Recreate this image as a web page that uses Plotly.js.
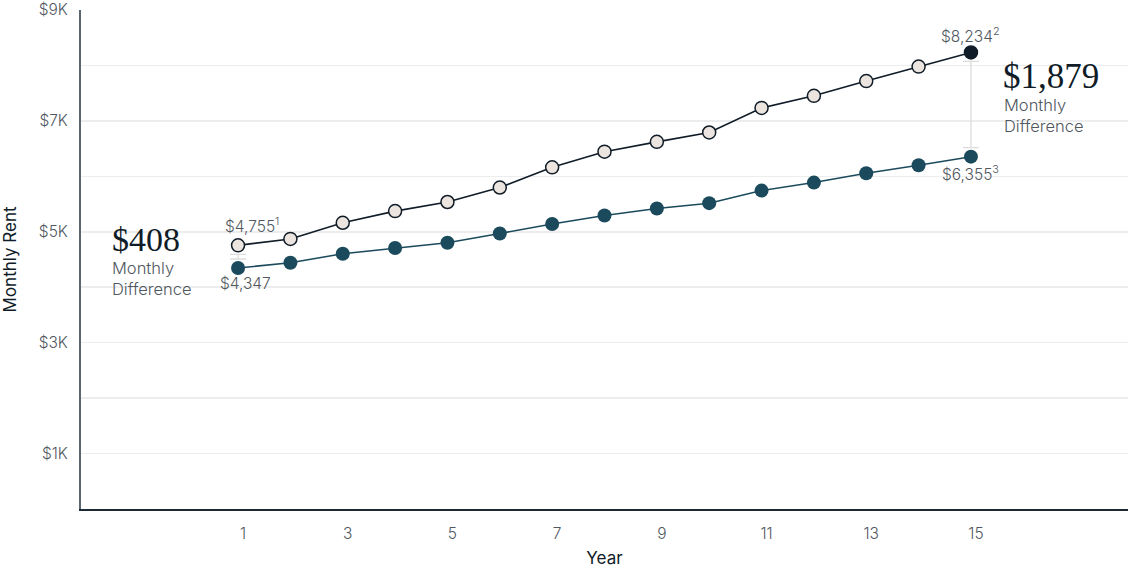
<!DOCTYPE html>
<html>
<head>
<meta charset="utf-8">
<script src="https://cdn.plot.ly/plotly-3.0.1.min.js"></script>
<style>
  html, body { margin: 0; padding: 0; background: #fff; }
  #chart { width: 1130px; height: 568px; }
</style>
</head>
<body>
<div id="chart"></div>
<script>
// year of tenancy
var years = [1, 2, 3, 4, 5, 6, 7, 8, 9, 10, 11, 12, 13, 14, 15];
// upper line (light markers)
var rentHigh = [4755, 4871, 5162, 5373, 5537, 5798, 6162, 6445, 6622, 6791, 7234, 7452, 7718, 7979, 8234];
// lower line (teal markers)
var rentLow = [4347, 4442, 4604, 4707, 4802, 4970, 5139, 5293, 5419, 5516, 5743, 5887, 6056, 6200, 6355];

var xTicks = [1, 3, 5, 7, 9, 11, 13, 15];
var yTicks = [1000, 2000, 3000, 4000, 5000, 6000, 7000, 8000, 9000];
var yTickText = ["$1K", "", "$3K", "", "$5K", "", "$7K", "", "$9K"];

var SANS = "Inter, Lato, 'Noto Sans', sans-serif";
var SERIF = "'Liberation Serif', 'DejaVu Serif', serif";
var DARK = "#101c27";
var TEAL = "#1b4a5c";
var GREY = "#50575e";

var last = years.length - 1;
var plotH = 568 - 10 - 59;
var padPx = 9;
var pad = padPx * 9000 / plotH;

function fmt(v) {
    return "$" + v.toLocaleString("en-US");
}

// connector between the two lines at first and last year
function gapBar(i) {
    var hi = rentHigh[i], lo = rentLow[i];
    return {
        x: [years[i]],
        y: [(hi + lo) / 2],
        type: "scatter",
        mode: "markers",
        marker: {size: 1, opacity: 0},
        hoverinfo: "skip",
        showlegend: false,
        error_y: {
            type: "constant",
            value: Math.max((hi - lo) / 2 - pad, 20),
            width: 8,
            thickness: 1.3,
            color: "#dcdcdc"
        }
    };
}

var highFill = rentHigh.map(function (v, i) { return i === last ? DARK : "#ece4de"; });

var traces = [
    gapBar(0),
    gapBar(last),
    {
        x: years,
        y: rentLow,
        type: "scatter",
        mode: "lines+markers",
        line: {color: TEAL, width: 1.5},
        marker: {size: 14, color: TEAL, line: {width: 0}},
        showlegend: false
    },
    {
        x: years,
        y: rentHigh,
        type: "scatter",
        mode: "lines+markers",
        line: {color: DARK, width: 1.6},
        marker: {size: 13, color: highFill, line: {color: DARK, width: 1.5}},
        showlegend: false
    }
];

var diffStart = rentHigh[0] - rentLow[0];
var diffEnd = rentHigh[last] - rentLow[last];
var labelFont = {family: SANS, size: 15.5, color: GREY, weight: 300};
var noteFont = {family: SANS, size: 16.5, color: GREY, weight: 300};

var annotations = [
    {x: years[0], y: rentHigh[0], xref: "x", yref: "y", text: fmt(rentHigh[0]) + "<sup>1</sup>",
     showarrow: false, xanchor: "center", yanchor: "middle", xshift: 14, yshift: 20, font: labelFont},
    {x: years[0], y: rentLow[0], xref: "x", yref: "y", text: fmt(rentLow[0]),
     showarrow: false, xanchor: "center", yanchor: "middle", xshift: 7, yshift: -16, font: labelFont},
    {x: years[last], y: rentHigh[last], xref: "x", yref: "y", text: fmt(rentHigh[last]) + "<sup>2</sup>",
     showarrow: false, xanchor: "center", yanchor: "middle", xshift: 0, yshift: 17, font: labelFont},
    {x: years[last], y: rentLow[last], xref: "x", yref: "y", text: fmt(rentLow[last]) + "<sup>3</sup>",
     showarrow: false, xanchor: "center", yanchor: "middle", xshift: 0, yshift: -16, font: labelFont},
    // left callout
    {x: years[0], y: rentHigh[0], xref: "x", yref: "y", text: fmt(diffStart),
     showarrow: false, xanchor: "left", yanchor: "middle", xshift: -128, yshift: 6,
     font: {family: SERIF, size: 34, color: DARK}},
    {x: years[0], y: rentHigh[0], xref: "x", yref: "y", text: "Monthly<br>Difference",
     showarrow: false, xanchor: "left", yanchor: "top", align: "left", xshift: -128, yshift: -11,
     font: noteFont},
    // right callout
    {x: years[last], y: rentHigh[last], xref: "x", yref: "y", text: fmt(diffEnd),
     showarrow: false, xanchor: "left", yanchor: "middle", xshift: 30, yshift: -24,
     font: {family: SERIF, size: 35, color: DARK}},
    {x: years[last], y: rentHigh[last], xref: "x", yref: "y", text: "Monthly<br>Difference",
     showarrow: false, xanchor: "left", yanchor: "top", align: "left", xshift: 31, yshift: -41,
     font: noteFont}
];

var layout = {
    width: 1130,
    height: 568,
    margin: {l: 81, r: 2, t: 10, b: 59},
    paper_bgcolor: "#ffffff",
    plot_bgcolor: "#ffffff",
    font: {family: SANS, color: GREY},
    xaxis: {
        range: [-2, 18],
        tickvals: xTicks,
        ticks: "",
        showgrid: false,
        zeroline: false,
        showline: true,
        linecolor: "#1e2a33",
        linewidth: 2,
        ticklabelshift: 5,
        ticklabelstandoff: 9,
        tickfont: {family: SANS, size: 15.5, color: GREY, weight: 300},
        title: {text: "Year", standoff: 32, font: {family: SANS, size: 17, color: DARK}}
    },
    yaxis: {
        range: [0, 9000],
        tickvals: yTicks,
        ticktext: yTickText,
        ticks: "",
        showgrid: true,
        gridcolor: "#ededed",
        gridwidth: 1.5,
        zeroline: false,
        showline: true,
        linecolor: "#5a6670",
        linewidth: 2,
        ticklabelstandoff: 8,
        tickfont: {family: SANS, size: 15.5, color: GREY, weight: 300},
        title: {text: "Monthly Rent", standoff: 18, font: {family: SANS, size: 17, color: DARK}}
    },
    annotations: annotations,
    hovermode: false
};

Plotly.newPlot("chart", traces, layout, {displayModeBar: false, staticPlot: true});
</script>
</body>
</html>
